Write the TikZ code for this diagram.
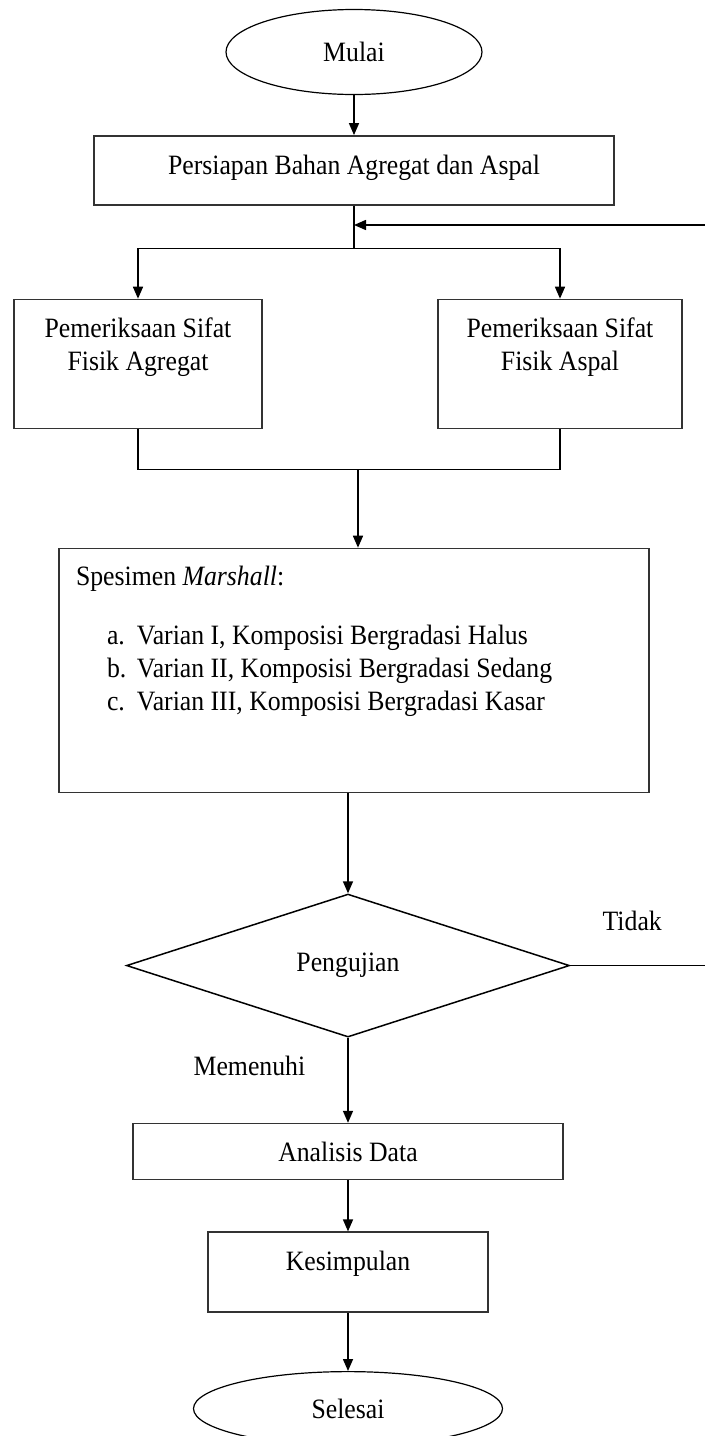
\documentclass[tikz,border=0pt]{standalone}
\usepackage{fontspec}
\setmainfont{Liberation Serif}[FakeStretch=0.92]
\usetikzlibrary{shapes.geometric,calc,arrows.meta,positioning}

\begin{document}
\begin{tikzpicture}[
    x=0.5pt, y=-0.5pt,
    >={Triangle[length=6pt,width=5pt]},
    font={\fontsize{14pt}{16.5pt}\selectfont},
    box/.style={draw=black!80, line width=0.8pt, align=center},
    term/.style={draw, ellipse, line width=0.6pt, inner sep=0pt},
    lbl/.style={inner sep=0pt},
    line/.style={line width=0.75pt}
]
\useasboundingbox (0,0) rectangle (705,1436);

\node[term, minimum width=128pt, minimum height=42.5pt] (mulai) at (354,52) {Mulai};
\node[box, minimum width=260pt, minimum height=34.5pt, text depth=6pt, below=20pt of mulai] (siap) {Persiapan Bahan Agregat dan Aspal};
\node[box, minimum width=124pt, minimum height=64.5pt, text depth=19.4pt, below=46.5pt of siap, xshift=-108pt] (agr) {Pemeriksaan Sifat\\Fisik Agregat};
\node[box, minimum width=122pt, minimum height=64.5pt, text depth=19.4pt, below=46.5pt of siap, xshift=103pt] (asp) {Pemeriksaan Sifat\\Fisik Aspal};
\node[box, inner sep=5pt, below=171pt of siap] (spes) {\parbox[c][112pt][t]{285pt}{\vspace*{4pt}\hspace*{3.5pt}Spesimen \textit{Marshall}:\\[13pt]
    \hspace*{19pt}\makebox[15pt][l]{a.}Varian I, Komposisi Bergradasi Halus\\
    \hspace*{19pt}\makebox[15pt][l]{b.}Varian II, Komposisi Bergradasi Sedang\\
    \hspace*{19pt}\makebox[15pt][l]{c.}Varian III, Komposisi Bergradasi Kasar}};
\node[draw, diamond, line width=0.75pt, inner sep=0pt, minimum width=221.5pt, minimum height=71.5pt, below=50pt of spes, xshift=-3pt] (uji) {Pengujian};
\node[box, minimum width=215pt, minimum height=28pt, below=42.5pt of uji] (anal) {Analisis Data};
\node[box, minimum width=140pt, minimum height=40pt, text depth=11.4pt, below=25.5pt of anal] (simp) {Kesimpulan};
\node[term, minimum width=154.5pt, minimum height=37pt, below=29pt of simp] (selesai) {Selesai};

\coordinate (cabang) at ($(siap.south)+(0,-21.5pt)$);
\coordinate (balik) at (705,225);
\coordinate (masuk) at (siap.south |- balik);
\coordinate (gabung) at ($(agr.south -| siap.south)+(2pt,-20pt)$);
\coordinate (tidak) at (uji.east -| balik);

\draw[line, ->] (mulai) -- (siap);
\draw[line] (siap) -- (cabang);
\draw[line, ->] (balik) -- (masuk);
\draw[line, ->] (cabang) -| (agr);
\draw[line, ->] (cabang) -| (asp);
\draw[line] (agr) |- (gabung) -| (asp);
\draw[line, ->] (gabung) -- (gabung |- spes.north);
\draw[line, ->] (uji.north |- spes.south) -- (uji);
\draw[line] (uji.east) -- node[lbl, pos=0.46, above=17pt] {Tidak} (tidak);
\draw[line, ->] (uji) -- node[lbl, pos=0.33, left=21pt] {Memenuhi} (anal);
\draw[line, ->] (anal) -- (simp);
\draw[line, ->] (simp) -- (selesai);
\end{tikzpicture}
\end{document}
